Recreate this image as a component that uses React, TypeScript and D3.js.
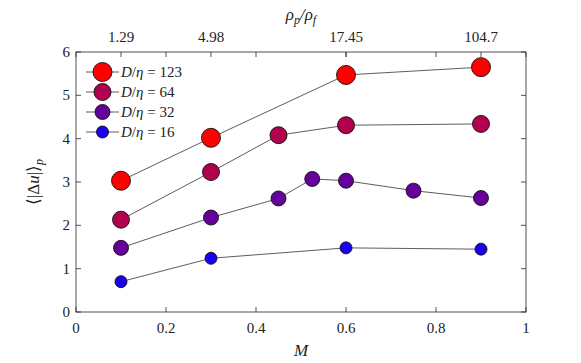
import React from "react";
import * as d3 from "d3";

const seriesNames = ["123", "64", "32", "16"];
const seriesColors = ["#ff0000", "#b0004e", "#66009a", "#1a00f0"];
const seriesRadius = [9.5, 8.5, 7.5, 6];
const m123 = [0.1, 0.3, 0.6, 0.9];
const v123 = [3.03, 4.02, 5.47, 5.65];
const m64 = [0.1, 0.3, 0.45, 0.6, 0.9];
const v64 = [2.13, 3.23, 4.08, 4.31, 4.34];
const m32 = [0.1, 0.3, 0.45, 0.525, 0.6, 0.75, 0.9];
const v32 = [1.48, 2.18, 2.62, 3.07, 3.03, 2.8, 2.63];
const m16 = [0.1, 0.3, 0.6, 0.9];
const v16 = [0.7, 1.24, 1.48, 1.45];
const xTicks = [0, 0.2, 0.4, 0.6, 0.8, 1];
const yTicks = [0, 1, 2, 3, 4, 5, 6];
const topTickPos = [0.1, 0.3, 0.6, 0.9];
const topTickLabels = ["1.29", "4.98", "17.45", "104.7"];

export default function App() {
  const W = 581, H = 363;
  const L = 76, R = 526, T = 52, B = 312;
  const x = d3.scaleLinear().domain([0, 1]).range([L, R]);
  const y = d3.scaleLinear().domain([0, 6]).range([B, T]);
  const series = [
    { m: m123, v: v123 },
    { m: m64, v: v64 },
    { m: m32, v: v32 },
    { m: m16, v: v16 },
  ];
  const line = d3.line<[number, number]>().x(d => x(d[0])).y(d => y(d[1]));
  const font = "'Times New Roman', 'Liberation Serif', Times, serif";
  const axisColor = "#262626";
  const tl = 5;
  const order = [3, 2, 1, 0];
  return (
    <svg width={W} height={H} style={{ position: "absolute", left: 0, top: 0, background: "#fff", fontFamily: font }}>
      <rect x={0} y={0} width={W} height={H} fill="#fff" />
      {order.map(i => {
        const s = series[i];
        const pts = s.m.map((mm, k) => [mm, s.v[k]] as [number, number]);
        return (
          <g key={i}>
            <path d={line(pts) || ""} fill="none" stroke="#333" strokeWidth={0.8} />
            {pts.map((p, k) => (
              <circle key={k} cx={x(p[0])} cy={y(p[1])} r={seriesRadius[i]} fill={seriesColors[i]} stroke="#111" strokeWidth={0.9} />
            ))}
          </g>
        );
      })}
      <rect x={L} y={T} width={R - L} height={B - T} fill="none" stroke={axisColor} strokeWidth={0.8} />
      {xTicks.map(t => (
        <g key={"x" + t}>
          <line x1={x(t)} x2={x(t)} y1={B} y2={B - tl} stroke={axisColor} strokeWidth={0.8} />
          <line x1={x(t)} x2={x(t)} y1={T} y2={T + tl} stroke={axisColor} strokeWidth={0.8} />
          <text x={x(t)} y={B + 21} textAnchor="middle" fontSize={15} fill="#222" style={{ fontFamily: font }}>{t}</text>
        </g>
      ))}
      {topTickPos.map((t, k) => (
        <g key={"tx" + k}>
          <line x1={x(t)} x2={x(t)} y1={T} y2={T + tl} stroke={axisColor} strokeWidth={0.8} />
          <text x={x(t)} y={T - 10} textAnchor="middle" fontSize={15} fill="#222" style={{ fontFamily: font }}>{topTickLabels[k]}</text>
        </g>
      ))}
      {yTicks.map(t => (
        <g key={"y" + t}>
          <line x1={L} x2={L + tl} y1={y(t)} y2={y(t)} stroke={axisColor} strokeWidth={0.8} />
          <line x1={R} x2={R - tl} y1={y(t)} y2={y(t)} stroke={axisColor} strokeWidth={0.8} />
          <text x={L - 6} y={y(t) + 5} textAnchor="end" fontSize={15} fill="#222" style={{ fontFamily: font }}>{t}</text>
        </g>
      ))}
      <text x={(L + R) / 2} y={356} textAnchor="middle" fontSize={17} fontStyle="italic" fill="#222" style={{ fontFamily: font }}>M</text>
      <text x={(L + R) / 2} y={20} textAnchor="middle" fontSize={17} fontStyle="italic" fill="#222" style={{ fontFamily: font }}>
        ρ<tspan fontSize={12} dy={4}>p</tspan><tspan dy={-4}>/ρ</tspan><tspan fontSize={12} dy={4}>f</tspan>
      </text>
      <text transform={`translate(39, ${(T + B) / 2}) rotate(-90)`} textAnchor="middle" fontSize={17} fill="#222" style={{ fontFamily: font }}>
        ⟨|Δ<tspan fontStyle="italic">u</tspan>|⟩<tspan fontSize={12} dy={4} fontStyle="italic">p</tspan>
      </text>
      {seriesNames.map((n, i) => {
        const ly = 72 + i * 20;
        return (
          <g key={"lg" + i}>
            <line x1={86} x2={119} y1={ly} y2={ly} stroke="#333" strokeWidth={0.8} />
            <circle cx={102.5} cy={ly} r={seriesRadius[i]} fill={seriesColors[i]} stroke="#111" strokeWidth={0.9} />
            <text x={121} y={ly + 5} fontSize={15} fill="#222" style={{ fontFamily: font }}>
              <tspan fontStyle="italic">D</tspan>/<tspan fontStyle="italic">η</tspan> = {n}
            </text>
          </g>
        );
      })}
    </svg>
  );
}
